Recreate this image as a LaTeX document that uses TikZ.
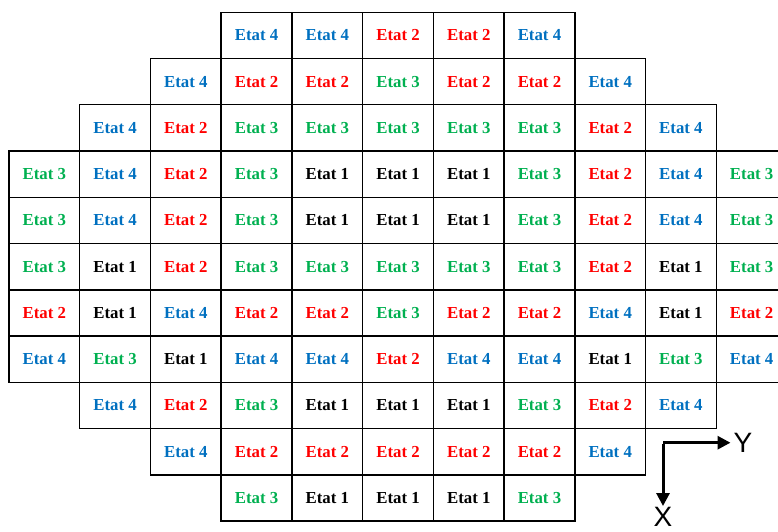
\documentclass[tikz,border=0pt]{standalone}
\usepackage{fontspec}
\setmainfont{Liberation Serif}
\newfontfamily\axisfont{Liberation Sans}
\usetikzlibrary{arrows.meta}
\definecolor{cblue}{RGB}{0,112,192}
\definecolor{cred}{RGB}{255,0,0}
\definecolor{cgreen}{RGB}{0,176,80}
\definecolor{cblack}{RGB}{0,0,0}
\tikzset{
  cell/.style={draw=black, line width=1.4pt, minimum width=70.73pt, minimum height=46.25pt,
    inner sep=0pt, font=\fontsize{16.8}{18}\selectfont\bfseries},
  e1/.style={text=cblack},
  e2/.style={text=cred},
  e3/.style={text=cgreen},
  e4/.style={text=cblue},
  axis/.style={line width=3pt, -{Triangle[length=13pt,width=13pt]}},
  axlabel/.style={font=\axisfont\fontsize{28}{30}\selectfont, inner sep=0pt}
}
\begin{document}
\begin{tikzpicture}[x=1pt,y=-1pt]
\useasboundingbox (0,0) rectangle (778,532);
\foreach \r/\s/\lst in {
  0/3/{4,4,2,2,4},
  1/2/{4,2,2,3,2,2,4},
  2/1/{4,2,3,3,3,3,3,2,4},
  3/0/{3,4,2,3,1,1,1,3,2,4,3},
  4/0/{3,4,2,3,1,1,1,3,2,4,3},
  5/0/{3,1,2,3,3,3,3,3,2,1,3},
  6/0/{2,1,4,2,2,3,2,2,4,1,2},
  7/0/{4,3,1,4,4,2,4,4,1,3,4},
  8/1/{4,2,3,1,1,1,3,2,4},
  9/2/{4,2,2,2,2,2,4},
  10/3/{3,1,1,1,3}}{
  \foreach \v [count=\i from \s] in \lst {
    \pgfmathsetmacro{\cx}{9+(\i+0.5)*70.73}
    \pgfmathsetmacro{\cy}{12.3+(\r+0.5)*46.25}
    \node[cell, e\v] (c\r-\i) at (\cx,\cy) {Etat \v};
  }
}
% axes
\coordinate (o) at (663,442.7);
\node[axlabel, anchor=west] (ylab) at (733.5,443) {Y};
\node[axlabel, anchor=north] (xlab) at (663,507) {X};
\draw[axis] (o) -- ([xshift=-3pt]ylab.west |- o);
\draw[axis] ([yshift=-1.5pt]o) -- ([yshift=1pt]o |- xlab.north);
\end{tikzpicture}
\end{document}
